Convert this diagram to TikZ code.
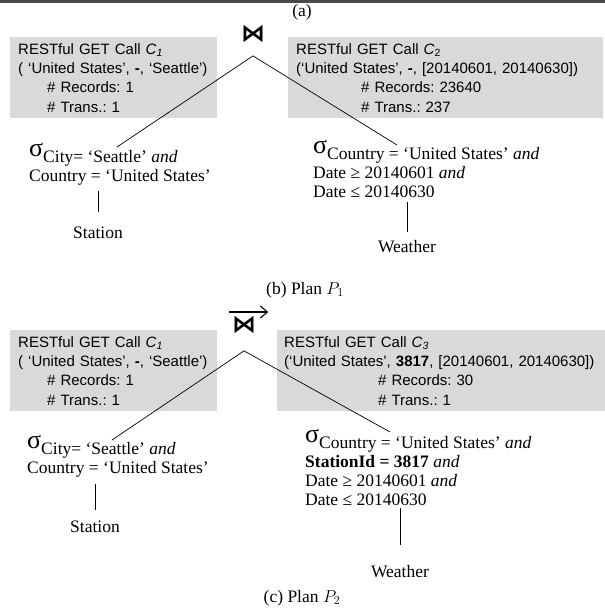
\documentclass[tikz,border=0pt]{standalone}
\usepackage{fontspec}
\setmainfont{Liberation Serif}
\newfontfamily\arialfont{Liberation Sans}
\newfontfamily\joinfont{DejaVu Sans}
\usepackage{tikz}
\usetikzlibrary{arrows.meta, positioning, calc}
\frenchspacing

\definecolor{callgray}{RGB}{217,217,217}
\definecolor{rulegray}{RGB}{72,72,72}

\newcommand{\sel}{\raisebox{6pt}{\fontsize{26}{26}\selectfont σ}}

\begin{document}
\begin{tikzpicture}[x=1pt, y=-1pt,
    callbox/.style={fill=callgray, anchor=north west, align=left, inner xsep=8pt, inner ysep=0pt,
        font=\arialfont\fontsize{15}{19.3}\selectfont, minimum height=81pt},
    relation/.style={anchor=north west, align=left, inner sep=0pt, font=\fontsize{17.5}{19}\selectfont},
    basetable/.style={inner sep=2pt, font=\fontsize{17.5}{19}\selectfont},
    captext/.style={inner sep=0pt, font=\fontsize{17.5}{19}\selectfont},
    joinop/.style={inner sep=0pt, font=\joinfont\bfseries\fontsize{24}{24}\selectfont},
    treeline/.style={line width=0.7pt},
    overarrow/.style={line width=1.1pt, -{Straight Barb[length=7pt, width=12pt]}}
]
\useasboundingbox (0,0) rectangle (605,611);

% rule and caption of the part above
\fill[rulegray] (0,0) rectangle (605,3);
\node[captext] (capA) at (302,12) {(a)};

% Plan P1
\node[joinop] (joinB) at (253,34) {⋈};
\coordinate[below=13pt of joinB] (apexB);

\node[callbox, text width=191pt] (callB1) at (10,37) {RESTful GET Call \textit{C}\textsubscript{\textit{1}}\\
( ‘United States’, \textbf{-}, ‘Seattle’)\\
\hspace*{29pt}\# Records: 1\\
\hspace*{29pt}\# Trans.: 1};
\node[callbox, text width=299pt] (callB2) at (288,37) {RESTful GET Call \textit{C}\textsubscript{2}\\
(‘United States’, \textbf{-}, [20140601, 20140630])\\
\hspace*{65pt}\# Records: 23640\\
\hspace*{65pt}\# Trans.: 237};

\node[relation] (selLB) at (29,143) {\sel City= ‘Seattle’ \textit{and}\\
Country = ‘United States’};
\node[relation] (selRB) at (313,140) {\sel Country = ‘United States’ \textit{and}\\
Date ≥ 20140601 \textit{and}\\
Date ≤ 20140630};

\node[basetable] (stationB) at (98,233) {Station};
\node[basetable] (weatherB) at (407,247) {Weather};

\draw[treeline] ($(selLB.north west)+(88,4)$) -- (apexB) -- ($(selRB.north west)+(84,5)$);
\draw[treeline, shorten <=13pt, shorten >=6pt] (stationB.north) -- (stationB.north |- selLB.south);
\draw[treeline, shorten <=7pt, shorten >=4pt] (weatherB.north) -- (weatherB.north |- selRB.south);

\node[captext] (capB) at (305,290) {(b) Plan $P_1$};

% Plan P2
\node[joinop] (joinC) at (244,325) {⋈};
\draw[overarrow] ([xshift=-3pt, yshift=13pt]joinC.west) -- ([xshift=12pt, yshift=13pt]joinC.east);
\coordinate[below=17pt of joinC] (apexC);

\node[callbox, text width=191pt] (callC1) at (10,330) {RESTful GET Call \textit{C}\textsubscript{\textit{1}}\\
( ‘United States’, \textbf{-}, ‘Seattle’)\\
\hspace*{29pt}\# Records: 1\\
\hspace*{29pt}\# Trans.: 1};
\node[callbox, inner xsep=7pt, text width=322pt] (callC3) at (277,330) {RESTful GET Call \textit{C}\textsubscript{\textit{3}}\\
(‘United States’, \textbf{3817}, [20140601, 20140630])\\
\hspace*{94pt}\# Records: 30\\
\hspace*{94pt}\# Trans.: 1};

\node[relation] (selLC) at (27,435) {\sel City= ‘Seattle’ \textit{and}\\
Country = ‘United States’};
\node[relation] (selRC) at (305,429) {\sel Country = ‘United States’ \textit{and}\\
\textbf{StationId = 3817} \textit{and}\\
Date ≥ 20140601 \textit{and}\\
Date ≤ 20140630};

\node[basetable] (stationC) at (95,527) {Station};
\node[basetable] (weatherC) at (400,572) {Weather};

\draw[treeline] ($(selLC.north west)+(85,5)$) -- (apexC) -- ($(selRC.north west)+(85,3)$);
\draw[treeline, shorten <=9pt, shorten >=7pt] (stationC.north) -- (stationC.north |- selLC.south);
\draw[treeline, shorten <=19pt, shorten >=2pt] (weatherC.north) -- (weatherC.north |- selRC.south);

\node[captext] (capC) at (302,598) {(c) Plan $P_2$};
\end{tikzpicture}
\end{document}
